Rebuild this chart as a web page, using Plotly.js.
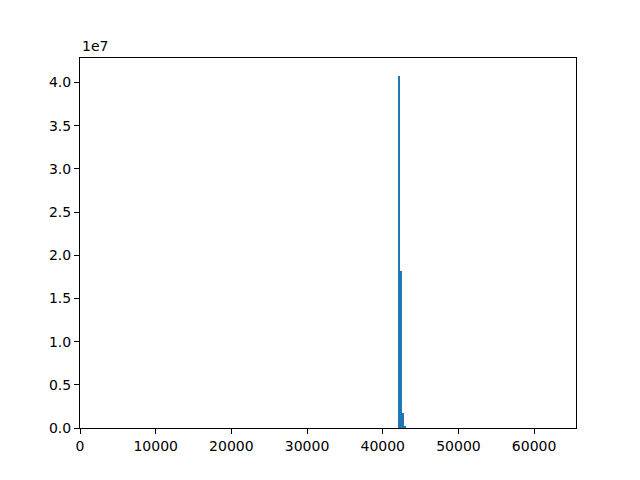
<!DOCTYPE html>
<html>
<head>
<meta charset="utf-8">
<script src="https://cdn.plot.ly/plotly-3.0.1.min.js"></script>
<style>html,body{margin:0;padding:0;background:#fff;}#chart{width:640px;height:480px;}</style>
</head>
<body>
<div id="chart"></div>
<script>
// Histogram data: bin start values (bin width 256) and counts
const binWidth = 256;
const binStarts = [41984, 42240, 42496, 42752, 43008];
const counts = [40800000, 18150000, 1750000, 250000, 40000];
const xTicks = [0, 10000, 20000, 30000, 40000, 50000, 60000];
const yTicks = [0, 5e6, 1e7, 1.5e7, 2e7, 2.5e7, 3e7, 3.5e7, 4e7];
const yTickLabels = ["0.0", "0.5", "1.0", "1.5", "2.0", "2.5", "3.0", "3.5", "4.0"];

const centers = binStarts.map(s => s + binWidth / 2);
const ymax = Math.max(...counts) * 1.05;

const trace = {
  type: 'bar',
  x: centers,
  y: counts,
  width: binWidth,
  marker: {color: '#1f77b4', line: {width: 0}},
  hoverinfo: 'x+y'
};

const axisCommon = {
  showline: true, mirror: true, linecolor: '#000', linewidth: 1,
  ticks: 'outside', ticklen: 5, tickwidth: 1, tickcolor: '#000',
  showgrid: false, zeroline: false,
  tickfont: {family: 'DejaVu Sans', size: 14, color: '#000'}
};

const layout = {
  width: 640, height: 480,
  margin: {l: 80, r: 64, t: 58, b: 52},
  paper_bgcolor: '#fff', plot_bgcolor: '#fff',
  showlegend: false,
  bargap: 0,
  xaxis: Object.assign({}, axisCommon, {
    range: [0, 65535], tickmode: 'array', tickvals: xTicks,
    ticktext: xTicks.map(String)
  }),
  yaxis: Object.assign({}, axisCommon, {
    range: [0, ymax], tickmode: 'array', tickvals: yTicks, ticktext: yTickLabels
  }),
  annotations: [{
    text: '1e7', xref: 'paper', yref: 'paper', x: 0, y: 1,
    xanchor: 'left', yanchor: 'bottom', yshift: 2, showarrow: false,
    font: {family: 'DejaVu Sans', size: 14, color: '#000'}
  }]
};

Plotly.newPlot('chart', [trace], layout, {staticPlot: true, displayModeBar: false});
</script>
</body>
</html>
